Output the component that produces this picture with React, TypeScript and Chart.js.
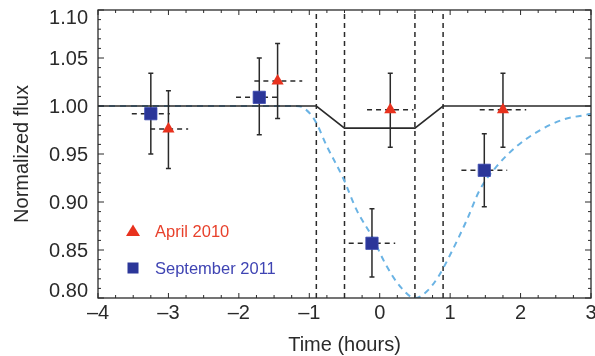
import { useEffect, useRef } from 'react';
import { Chart, registerables } from 'chart.js';

Chart.register(...registerables);

// ---- axis ranges ----
const X_MIN = -4;
const X_MAX = 3;
const Y_MIN = 0.8;
const Y_MAX = 1.1;
const X_STEP = 1;
const Y_STEP = 0.05;
const X_MINOR = 0.25;
const Y_MINOR = 0.01;

// ---- transit contact times (vertical dashed lines) ----
const contactTimes = [-0.9, -0.5, 0.5, 0.9];

// ---- black model (solid) ----
const modelTime = [-4, -0.9, -0.5, 0.5, 0.9, 3];
const modelFlux = [1.0, 1.0, 0.977, 0.977, 1.0, 1.0];

// ---- light-blue dashed model ----
const curveTime = [-4, -1.5, -1.2, -1.08, -0.92, -0.75, -0.52, -0.33, -0.11, 0.1, 0.29, 0.5, 0.67, 0.83, 1.0, 1.235, 1.42, 1.66, 1.945, 2.28, 2.61, 2.94, 3.0];
const curveFlux = [1.0, 1.0, 1.0, 0.998, 0.985, 0.958, 0.925, 0.892, 0.864, 0.833, 0.812, 0.8, 0.807, 0.822, 0.845, 0.881, 0.9125, 0.937, 0.958, 0.975, 0.986, 0.991, 0.992];

// ---- April 2010 (red triangles) ----
const aprilTime = [-3.0, -1.45, 0.15, 1.75];
const aprilFlux = [0.976, 1.026, 0.996, 0.996];
const aprilFluxLo = [0.935, 0.987, 0.957, 0.957];
const aprilFluxHi = [1.016, 1.065, 1.034, 1.034];
const aprilTimeLo = [-3.26, -1.78, -0.18, 1.42];
const aprilTimeHi = [-2.72, -1.1, 0.48, 2.08];

// ---- September 2011 (blue squares) ----
const septTime = [-3.25, -1.71, -0.11, 1.485];
const septFlux = [0.992, 1.009, 0.857, 0.933];
const septFluxLo = [0.95, 0.97, 0.822, 0.895];
const septFluxHi = [1.034, 1.05, 0.893, 0.971];
const septTimeLo = [-3.52, -2.04, -0.44, 1.16];
const septTimeHi = [-2.98, -1.42, 0.22, 1.81];

const legendLabels = ['April 2010', 'September 2011'];

const RED = '#e8321e';
const BLUE = '#2b3699';
const RED_TEXT = '#e8412c';
const BLUE_TEXT = '#3f44b3';
const CURVE = '#6ab3e4';
const INK = '#2a2a2a';
const FONT = "'Liberation Sans', Arial, Helvetica, sans-serif";

const errorSets = [
  { t: aprilTime, tLo: aprilTimeLo, tHi: aprilTimeHi, f: aprilFlux, fLo: aprilFluxLo, fHi: aprilFluxHi },
  { t: septTime, tLo: septTimeLo, tHi: septTimeHi, f: septFlux, fLo: septFluxLo, fHi: septFluxHi },
];

let errorsDrawn = false;

const errorBarPlugin = {
  id: 'errorBars',
  beforeDatasetsDraw() {
    errorsDrawn = false;
  },
  beforeDatasetDraw(chart: any, args: any) {
    const ds = chart.data.datasets[args.index];
    if (!ds.isMarker || errorsDrawn) return;
    errorsDrawn = true;
    const { ctx, scales, chartArea: a } = chart;
    const x = scales.x;
    const y = scales.y;
    ctx.save();
    ctx.beginPath();
    ctx.rect(a.left, a.top, a.right - a.left, a.bottom - a.top);
    ctx.clip();
    ctx.strokeStyle = INK;
    ctx.lineWidth = 1.5;
    for (const s of errorSets) {
      for (let i = 0; i < s.t.length; i++) {
        const px = x.getPixelForValue(s.t[i]);
        const pLo = y.getPixelForValue(s.fLo[i]);
        const pHi = y.getPixelForValue(s.fHi[i]);
        const py = y.getPixelForValue(s.f[i]);
        ctx.setLineDash([]);
        ctx.beginPath();
        ctx.moveTo(px, pLo);
        ctx.lineTo(px, pHi);
        ctx.moveTo(px - 2.5, pLo);
        ctx.lineTo(px + 2.5, pLo);
        ctx.moveTo(px - 2.5, pHi);
        ctx.lineTo(px + 2.5, pHi);
        ctx.stroke();
        ctx.setLineDash([5, 4]);
        ctx.beginPath();
        ctx.moveTo(x.getPixelForValue(s.tLo[i]), py);
        ctx.lineTo(x.getPixelForValue(s.tHi[i]), py);
        ctx.stroke();
      }
    }
    ctx.restore();
  },
};

const frameTicksPlugin = {
  id: 'frameTicks',
  afterDatasetsDraw(chart: any) {
    const { ctx, chartArea: a, scales } = chart;
    const x = scales.x;
    const y = scales.y;
    ctx.save();
    ctx.strokeStyle = INK;
    ctx.lineWidth = 1.3;
    ctx.setLineDash([]);
    ctx.strokeRect(a.left, a.top, a.right - a.left, a.bottom - a.top);
    ctx.lineWidth = 1;
    ctx.beginPath();
    const nx = Math.round((X_MAX - X_MIN) / X_MINOR);
    const perX = Math.round(X_STEP / X_MINOR);
    for (let i = 0; i <= nx; i++) {
      const px = x.getPixelForValue(X_MIN + i * X_MINOR);
      const len = i % perX === 0 ? 5 : 3;
      ctx.moveTo(px, a.bottom);
      ctx.lineTo(px, a.bottom - len);
      ctx.moveTo(px, a.top);
      ctx.lineTo(px, a.top + len);
    }
    const ny = Math.round((Y_MAX - Y_MIN) / Y_MINOR);
    const perY = Math.round(Y_STEP / Y_MINOR);
    for (let i = 0; i <= ny; i++) {
      const py = y.getPixelForValue(Y_MIN + i * Y_MINOR);
      const len = i % perY === 0 ? 6 : 3;
      ctx.moveTo(a.left, py);
      ctx.lineTo(a.left + len, py);
      ctx.moveTo(a.right, py);
      ctx.lineTo(a.right - len, py);
    }
    ctx.stroke();

    // y tick labels (end labels nudged inside like the original)
    ctx.font = `20px ${FONT}`;
    ctx.fillStyle = INK;
    ctx.textAlign = 'right';
    ctx.textBaseline = 'middle';
    for (const t of y.ticks) {
      let py = y.getPixelForValue(t.value);
      py = Math.min(Math.max(py, a.top + 7), a.bottom - 8);
      ctx.fillText(Number(t.value).toFixed(2), a.left - 10, py + 1);
    }
    ctx.restore();
  },
  afterDraw(chart: any) {
    const { ctx, chartArea: a } = chart;
    ctx.save();
    const mx = a.left + 35;
    const tx = a.left + 57;
    const y1 = a.top + 221;
    const y2 = a.top + 258;
    ctx.fillStyle = RED;
    ctx.beginPath();
    ctx.moveTo(mx, y1 - 6.5);
    ctx.lineTo(mx + 7, y1 + 5);
    ctx.lineTo(mx - 7, y1 + 5);
    ctx.closePath();
    ctx.fill();
    ctx.fillStyle = BLUE;
    ctx.fillRect(mx - 5.5, y2 - 5.5, 11, 11);
    ctx.font = `16.5px ${FONT}`;
    ctx.textBaseline = 'middle';
    ctx.textAlign = 'left';
    ctx.fillStyle = RED_TEXT;
    ctx.fillText(legendLabels[0], tx, y1 + 1);
    ctx.fillStyle = BLUE_TEXT;
    ctx.fillText(legendLabels[1], tx, y2 + 1);
    ctx.restore();
  },
};

export default function App() {
  const ref = useRef<HTMLCanvasElement | null>(null);

  useEffect(() => {
    if (!ref.current) return;
    const vlineSets = contactTimes.map((t) => ({
      type: 'line' as const,
      data: [
        { x: t, y: Y_MIN },
        { x: t, y: Y_MAX },
      ],
      borderColor: INK,
      borderWidth: 1.5,
      borderDash: [5, 4],
      pointRadius: 0,
      showLine: true,
      order: 5,
    }));

    const chart = new Chart(ref.current, {
      type: 'scatter',
      data: {
        datasets: [
          {
            label: 'April 2010',
            data: aprilTime.map((t, i) => ({ x: t, y: aprilFlux[i] })),
            pointStyle: 'triangle',
            pointRadius: 7,
            backgroundColor: RED,
            borderColor: RED,
            borderWidth: 0,
            order: 0,
            isMarker: true,
          } as any,
          {
            label: 'September 2011',
            data: septTime.map((t, i) => ({ x: t, y: septFlux[i] })),
            pointStyle: 'rect',
            pointRadius: 8.7,
            backgroundColor: BLUE,
            borderColor: '#3b4ab0',
            borderWidth: 0.8,
            order: 1,
            isMarker: true,
          } as any,
          {
            label: 'model',
            data: modelTime.map((t, i) => ({ x: t, y: modelFlux[i] })),
            showLine: true,
            borderColor: INK,
            borderWidth: 1.6,
            pointRadius: 0,
            order: 3,
          },
          {
            label: 'curve',
            data: curveTime.map((t, i) => ({ x: t, y: curveFlux[i] })),
            showLine: true,
            borderColor: CURVE,
            borderWidth: 2,
            borderDash: [6, 5],
            cubicInterpolationMode: 'monotone',
            pointRadius: 0,
            order: 4,
          },
          ...vlineSets,
        ],
      },
      options: {
        animation: false,
        responsive: false,
        layout: { padding: 0, autoPadding: false },
        plugins: {
          legend: { display: false },
          tooltip: { enabled: false },
        },
        scales: {
          x: {
            type: 'linear',
            min: X_MIN,
            max: X_MAX,
            grid: { display: false, drawTicks: false },
            border: { display: false },
            ticks: {
              stepSize: X_STEP,
              padding: 5,
              color: INK,
              font: { family: FONT, size: 20, lineHeight: 1 },
              callback: (v: any) => (v < 0 ? '\u2013' + Math.abs(v) : String(v)),
            },
            title: {
              display: true,
              text: 'Time (hours)',
              color: INK,
              font: { family: FONT, size: 20, lineHeight: 1 },
              padding: { top: 0, bottom: 1 },
            },
            afterFit: (s: any) => {
              s.height = 58;
              s.paddingRight = 4;
              s.paddingLeft = 0;
            },
          },
          y: {
            type: 'linear',
            min: Y_MIN,
            max: Y_MAX,
            grid: { display: false, drawTicks: false },
            border: { display: false },
            ticks: {
              stepSize: Y_STEP,
              display: false,
              font: { family: FONT, size: 20, lineHeight: 1 },
            },
            title: {
              display: true,
              text: 'Normalized flux',
              color: INK,
              font: { family: FONT, size: 20, lineHeight: 1.2 },
              padding: { top: 10, bottom: 0 },
            },
            afterFit: (s: any) => {
              s.width = 98;
              s.paddingTop = 10;
              s.paddingBottom = 0;
            },
          },
        },
      },
      plugins: [errorBarPlugin, frameTicksPlugin],
    } as any);
    return () => chart.destroy();
  }, []);

  return (
    <canvas
      ref={ref}
      width={595}
      height={356}
      style={{ position: 'absolute', left: 0, top: 0, width: 595, height: 356, background: '#fff' }}
    />
  );
}
